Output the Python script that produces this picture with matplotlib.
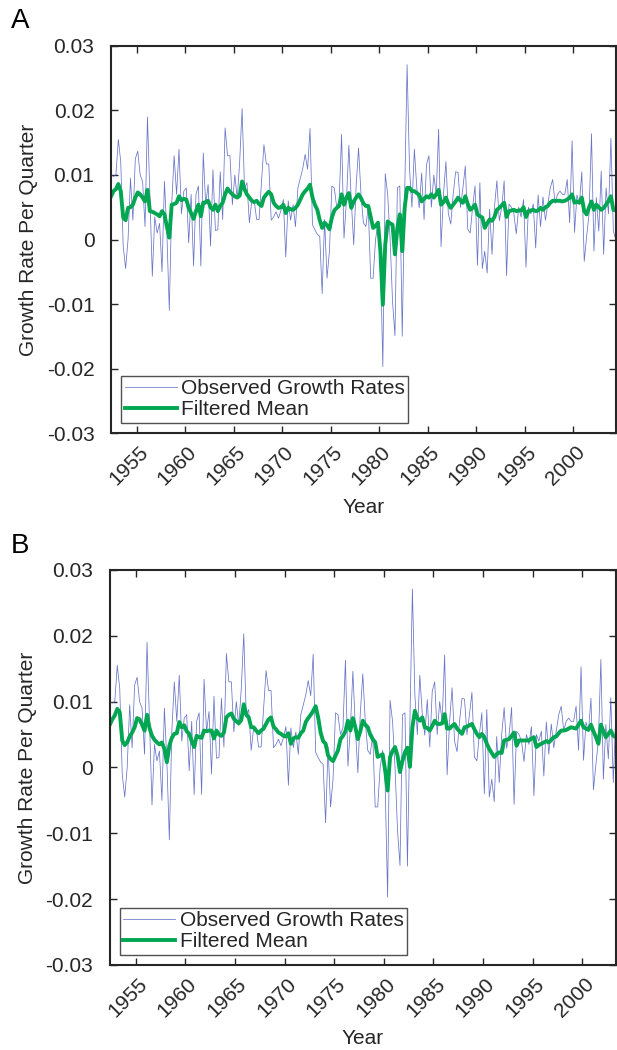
import numpy as np
import matplotlib
matplotlib.use("Agg")
import matplotlib.pyplot as plt
from matplotlib.transforms import ScaledTranslation

plt.rcParams['font.family'] = ['Liberation Sans', 'DejaVu Sans']

# quarterly time axis (decimal years)
start_year = 1952.375
n_quarters = 209

# observed growth rate per quarter (x 1e-3)
observed = [
    10, 9.8, 10, 15.5, 12, -1, -4.5, 0, 9.5, 3,
    12.5, 13.7, 10, 9, 2, 19, 7, -5.7, 3.5, 1,
    2.5, -5, 9, 1, -11, 5.5, 13, 7, 14, 4,
    7.5, 8, -0.5, 7, -4.1, 7, 8.3, -4.1, 13.4, 5.4,
    8.5, -1, 10.8, 1.4, 1.5, 10.5, 3.1, 17.3, 13, 13,
    5.4, 10, 6.4, 12, 20.3, 8, 8.8, 2.6, 6, 6,
    3.1, 3.1, 8.8, 14.7, 11.7, 11.7, 3, 3.5, 4.3, 3.3,
    4.5, 6.2, -2.7, 6, 3, 5.4, 2, 8, 9.5, 11,
    13.2, 10.9, 17.2, 2.3, 1.5, 0.8, 0.5, -8.4, 3.1, -6,
    -1.8, 8.3, 8, 5, 6, 16.3, 0.2, 6, 14.6, 6,
    -0.8, 8.3, 14.2, 7, 2.6, 2, 5, -6, -6, 0,
    2.6, -2.3, -19.7, 10.2, 7, 0, -9.6, -14.9, 8, 8.3,
    -15, 7, 27.1, 11, 5, 14, 8, 4.9, 10.3, 3.1,
    11.6, 13, 5, 10, 7, 17.1, -1.1, 7, 12.1, 4,
    2.4, 7, 10.5, 10.4, 5, 8, 11.4, 1.6, 1, 5,
    8.3, -4, 8.8, -4.5, -1.8, -5.2, 4.7, -2.3, 5, 9.1,
    2.9, 5, 9.1, -5.6, 5.5, 5, 4, 0.9, 5, 3.5,
    6.2, -4.3, 5, 4, 5.5, -1.3, 6.9, 2, 6.6, 3,
    5.5, 8, 9.3, 5.6, 7, 7.5, 7, 7, 9.3, 2.6,
    15.3, 1.1, 6.9, 5.5, 10.5, -3.4, 0.5, 4, 16.4, -1.8,
    6.5, 1.3, 10.6, -2.3, 8, 4, 15.7, 1.3, 0,
]

# filtered mean, panel A (x 1e-3)
filtered_a = [
    6.7, 7.5, 7.8, 8.6, 7.5, 3.4, 3.0, 4.9, 5.0, 5.4,
    6.5, 7.3, 7.0, 6.5, 5.9, 7.7, 4.4, 4.3, 4.1, 3.9,
    3.6, 4.4, 3.9, 2.0, 0.3, 5.4, 5.5, 5.7, 6.7, 6.1,
    6.3, 6.2, 4.9, 4.1, 3.2, 4.4, 5.4, 3.6, 5.7, 5.8,
    6.0, 5.0, 4.6, 5.4, 4.4, 5.2, 5.7, 7.0, 7.9, 7.4,
    7.0, 6.7, 6.5, 6.8, 9.0, 7.8, 7.0, 6.5, 6.0, 5.8,
    6.0, 5.5, 5.2, 6.5, 7.0, 7.4, 7.0, 5.7, 5.2, 4.9,
    5.0, 5.4, 4.1, 4.9, 4.7, 4.6, 4.9, 5.4, 6.2, 7.0,
    7.5, 7.9, 8.5, 6.5, 5.4, 4.6, 3.0, 1.8, 2.6, 2.2,
    1.6, 3.4, 4.5, 4.9, 5.2, 7.0, 5.4, 6.5, 7.2, 4.9,
    5.9, 6.5, 7.0, 6.4, 5.6, 5.2, 5.2, 3.5, 1.8, 2.1,
    2.6, -1.8, -10.1, -0.8, 2.8, 2.5, 2.3, -2.3, 1.8, 3.9,
    -1.8, 4.9, 8.0, 8.0, 7.5, 7.5, 7.2, 6.9, 5.9, 6.3,
    6.7, 6.5, 7.0, 6.5, 7.0, 7.7, 5.4, 5.8, 6.5, 5.5,
    4.9, 5.4, 5.9, 6.5, 6.0, 5.7, 6.7, 5.5, 4.6, 4.9,
    5.4, 3.9, 3.6, 3.4, 1.8, 2.5, 3.1, 2.9, 3.5, 4.6,
    4.9, 5.3, 5.7, 3.5, 4.4, 4.5, 4.6, 4.4, 4.5, 4.5,
    5.0, 3.5, 4.4, 4.5, 4.6, 4.4, 4.5, 4.9, 4.6, 5.0,
    5.2, 5.7, 6.0, 6.0, 6.0, 6.0, 5.9, 6.0, 6.2, 6.5,
    7.0, 5.7, 5.9, 5.7, 6.5, 4.4, 3.9, 5.0, 5.9, 4.6,
    5.4, 5.0, 4.6, 4.9, 5.4, 6.0, 6.7, 4.6, 4.5,
]

# filtered mean, panel B (x 1e-3), shorter sample
filtered_b = [
    6.5, 7.3, 7.9, 8.9, 8.4, 4.1, 3.4, 3.8, 4.7, 5.3,
    6.1, 7.5, 7.3, 6.5, 5.6, 8.0, 6.0, 4.8, 4.2, 3.8,
    3.5, 3.8, 2.8, 0.8, 3.3, 4.5, 5.1, 5.2, 6.9, 6.1,
    6.4, 5.5, 5.1, 4.0, 3.1, 4.8, 4.6, 4.5, 5.6, 5.5,
    5.6, 5.6, 4.4, 5.6, 5.0, 4.8, 5.3, 7.6, 8.0, 8.2,
    7.4, 7.0, 6.7, 7.2, 9.6, 8.0, 7.6, 6.1, 6.1, 5.6,
    5.2, 5.6, 5.9, 6.6, 7.3, 7.6, 6.2, 5.8, 5.3, 5.1,
    4.8, 4.7, 5.2, 3.6, 4.4, 4.6, 4.5, 5.2, 5.6, 6.9,
    7.5, 8.0, 8.6, 9.3, 7.6, 5.3, 4.0, 3.6, 1.8, 1.3,
    0.96, 1.8, 2.6, 4.3, 4.8, 5.5, 7.1, 5.6, 7.5, 6.1,
    4.3, 5.5, 7.1, 6.5, 6.1, 5.0, 4.3, 3.8, 1.6, 1.8,
    2.0, -0.4, -3.5, 1.6, 2.5, 3.1, 1.8, -0.7, 1.0, 2.3,
    3.0, 0.1, 6.1, 8.6, 7.5, 7.1, 7.6, 6.1, 6.0, 5.6,
    6.3, 7.1, 6.6, 6.6, 6.7, 8.1, 5.9, 5.9, 6.3, 6.6,
    5.9, 5.5, 5.1, 6.1, 6.2, 6.4, 6.6, 5.8, 5.1, 4.6,
    5.1, 4.6, 3.6, 2.8, 2.2, 1.6, 2.0, 2.3, 2.2, 4.1,
    4.2, 4.3, 4.8, 5.3, 3.3, 4.1, 4.1, 4.1, 4.1, 4.1,
    4.4, 4.6, 3.1, 3.4, 3.6, 3.8, 4.0, 3.8, 4.2, 4.6,
    4.7, 5.2, 5.6, 5.6, 5.7, 5.9, 6.1, 6.0, 5.9, 6.5,
    7.1, 6.1, 5.9, 5.7, 6.5, 5.5, 4.6, 3.6, 6.5, 5.5,
    4.6, 5.1, 5.6, 4.8, 4.6,
]

year_ticks = [1955, 1960, 1965, 1970, 1975, 1980, 1985, 1990, 1995, 2000]
y_ticks = [-0.03, -0.02, -0.01, 0, 0.01, 0.02, 0.03]
y_tick_labels = ['-0.03', '-0.02', '-0.01', '0', '0.01', '0.02', '0.03']

t = start_year + 0.25 * np.arange(n_quarters)
obs = np.array(observed) / 1000
fa = np.array(filtered_a) / 1000
fb = np.array(filtered_b) / 1000

fig = plt.figure(figsize=(6.17, 10.5), dpi=100)
ax_a = fig.add_axes([0.180, 0.5876, 0.818, 0.3686])
ax_b = fig.add_axes([0.178, 0.0810, 0.820, 0.3762])

blue = '#4e5cbd'
green = '#00a651'
text_col = '#262626'
fs = 15


def style(ax, xmax):
    ax.set_xlim(t[0], xmax)
    ax.set_ylim(-0.03, 0.03)
    ax.set_yticks(y_ticks)
    ax.set_yticklabels(y_tick_labels)
    ax.set_xticks(year_ticks)
    ax.set_xticklabels([str(y) for y in year_ticks], rotation=45, ha='center')
    ax.tick_params(direction='in', length=5, width=1, top=True, right=True,
                   labelsize=fs, colors=text_col, pad=7)
    ax.tick_params(axis='y', pad=12)
    for lab in ax.get_xticklabels():
        lab.set_transform(lab.get_transform() + ScaledTranslation(-0.08, 0, fig.dpi_scale_trans))
    for s in ax.spines.values():
        s.set_linewidth(1.5)
        s.set_color(text_col)
    ax.set_xlabel('Year', fontsize=fs, color=text_col, labelpad=6)
    ax.set_ylabel('Growth Rate Per Quarter', fontsize=fs, color=text_col, labelpad=6)
    leg = ax.legend(loc='lower left', fontsize=fs, frameon=True, fancybox=False,
                    edgecolor=text_col, handlelength=2.5, handletextpad=0.2,
                    labelspacing=0.1, borderpad=0.15, borderaxespad=0.5)
    leg.get_frame().set_linewidth(1.0)
    for txt in leg.get_texts():
        txt.set_color(text_col)


ax_a.plot(t, obs, color=blue, lw=0.55, alpha=0.85, label='Observed Growth Rates')
ax_a.plot(t, fa, color=green, lw=2.8, label='Filtered Mean')
style(ax_a, t[-1])

nb = len(filtered_b)
ax_b.plot(t, obs, color=blue, lw=0.55, alpha=0.85, label='Observed Growth Rates')
ax_b.plot(t[:nb], fb, color=green, lw=2.8, label='Filtered Mean')
style(ax_b, t[nb - 1])

fig.text(0.018, 0.992, 'A', fontsize=20, color='black', va='top', ha='left')
fig.text(0.018, 0.492, 'B', fontsize=20, color='black', va='top', ha='left')

fig.savefig('out.png', dpi=100)
